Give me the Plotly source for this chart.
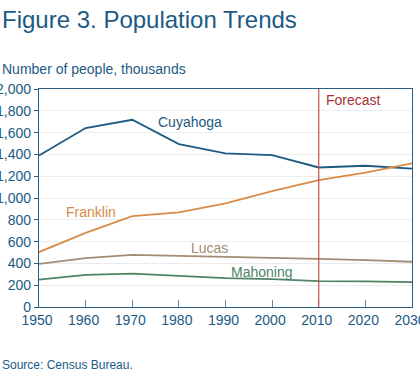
import plotly.graph_objects as go

years = [1950, 1960, 1970, 1980, 1990, 2000, 2010, 2020, 2030]
cuyahoga = [1390, 1642, 1718, 1494, 1410, 1393, 1280, 1296, 1270]
franklin = [504, 680, 833, 869, 950, 1064, 1164, 1232, 1318]
lucas = [396, 449, 478, 470, 462, 455, 442, 430, 415]
mahoning = [252, 295, 306, 287, 264, 256, 238, 236, 228]

names = ["Cuyahoga", "Franklin", "Lucas", "Mahoning"]
values = [cuyahoga, franklin, lucas, mahoning]
colors = ["#1d5a83", "#d98a46", "#a38c74", "#4e8465"]
label_x = [1982.4, 1961.2, 1986.6, 1997.8]
label_y = [1700, 870, 540, 322]

font = "Liberation Sans, Arial, sans-serif"
W, H = 420, 381
L, R, T, B = 39, 8, 89, 74
PH = H - T - B
PW = W - L - R

fig = go.Figure()
for name, vals, col in zip(names, values, colors):
    fig.add_trace(go.Scatter(x=years, y=vals, mode="lines", name=name,
                             line=dict(color=col, width=1.8), showlegend=False,
                             hoverinfo="skip"))

for name, col, x, y in zip(names, colors, label_x, label_y):
    fig.add_annotation(x=x, y=y, text=name, showarrow=False, xref="x", yref="y",
                       font=dict(family=font, size=14, color=col))

fig.add_shape(type="line", x0=2010, x1=2010, y0=0, y1=2000, xref="x", yref="y",
              line=dict(color="#c0504d", width=1.2))
fig.add_annotation(x=2011.2, y=1895, text="Forecast", showarrow=False, xanchor="left",
                   font=dict(family=font, size=14, color="#a83232"))


def px_x(p):
    return (p - L) / PW


def px_y(p):
    return (H - B - p) / PH


fig.add_annotation(x=px_x(0), y=px_y(4), xref="paper", yref="paper",
                   xanchor="left", yanchor="top", showarrow=False,
                   text="Figure 3. Population Trends",
                   font=dict(family=font, size=24, color="#1c5a84"))
fig.add_annotation(x=px_x(0), y=px_y(69), xref="paper", yref="paper",
                   xanchor="left", yanchor="middle", showarrow=False,
                   text="Number of people, thousands",
                   font=dict(family=font, size=14, color="#1c5a84"))
fig.add_annotation(x=px_x(0), y=px_y(365), xref="paper", yref="paper",
                   xanchor="left", yanchor="middle", showarrow=False,
                   text="Source: Census Bureau.",
                   font=dict(family=font, size=12, color="#1c5a84"))

fig.update_layout(
    width=W, height=H,
    margin=dict(l=L, r=R, t=T, b=B, autoexpand=False),
    paper_bgcolor="white", plot_bgcolor="white",
    font=dict(family=font, size=14, color="#1c5a84"),
    xaxis=dict(range=[1950, 2030], tickvals=years, ticks="inside", ticklen=7,
               tickcolor="#5b8db5", showgrid=False, showline=True, mirror=True,
               linecolor="#2a6088", linewidth=1.2, zeroline=False, automargin=False,
               ticklabeloverflow="allow", ticklabelshift=-2,
               tickfont=dict(family=font, size=14, color="#1c5a84")),
    yaxis=dict(range=[0, 2000], tickvals=list(range(0, 2001, 200)),
               tickformat=",d", ticks="outside", ticklen=4, tickcolor="#2a6088",
               showgrid=True, gridcolor="#ececec", showline=True, mirror=True,
               linecolor="#2a6088", linewidth=1.2, zeroline=False, automargin=False,
               ticklabeloverflow="allow",
               tickfont=dict(family=font, size=14, color="#1c5a84")),
)

fig.write_html("out.html", config={"displayModeBar": False},
               post_script="document.body.style.margin='0';document.body.style.overflow='hidden';")
